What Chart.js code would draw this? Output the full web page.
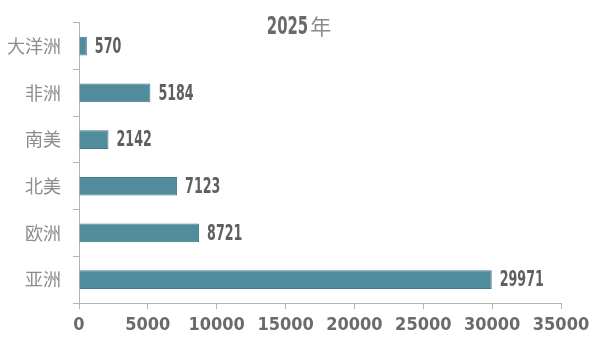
<!DOCTYPE html>
<html>
<head>
<meta charset="utf-8">
<script src="https://cdn.jsdelivr.net/npm/chart.js@4/dist/chart.umd.min.js"></script>
<style>
    html, body { margin: 0; padding: 0; background: #fff; }
    #wrap { width: 600px; height: 358px; }
</style>
</head>
<body>
<div id="wrap"><canvas id="regionChart"></canvas></div>
<script>
// data
const regions = ['大洋洲', '非洲', '南美', '北美', '欧洲', '亚洲'];
const counts = [570, 5184, 2142, 7123, 8721, 29971];
const xTicks = [0, 5000, 10000, 15000, 20000, 25000, 30000, 35000];
const titleYear = '2025';
const titleUnit = '年';

const numFont = '"DejaVu Sans Condensed", "Liberation Sans Narrow", sans-serif';

// draw text squeezed horizontally to mimic a condensed face
function narrowText(ctx, text, x, y, squeeze) {
    ctx.save();
    ctx.translate(x, y);
    ctx.scale(squeeze, 1);
    ctx.fillText(text, 0, 0);
    ctx.restore();
}

// value labels at the end of each bar
const valueLabels = {
    id: 'valueLabels',
    afterDatasetsDraw(chart) {
        const ctx = chart.ctx;
        const meta = chart.getDatasetMeta(0);
        ctx.save();
        ctx.font = 'bold 22px ' + numFont;
        ctx.fillStyle = '#5f5f5f';
        ctx.textAlign = 'left';
        ctx.textBaseline = 'middle';
        meta.data.forEach((bar, i) => {
            narrowText(ctx, String(counts[i]), bar.x + 8, bar.y + 1, 0.64);
        });
        ctx.restore();
    }
};

// title with mixed fonts
const yearTitle = {
    id: 'yearTitle',
    afterDraw(chart) {
        const ctx = chart.ctx;
        ctx.save();
        ctx.textBaseline = 'middle';
        ctx.textAlign = 'left';
        ctx.font = 'bold 25px ' + numFont;
        const w1 = ctx.measureText(titleYear).width * 0.66;
        ctx.font = '21px "Noto Sans CJK SC", sans-serif';
        const w2 = ctx.measureText(titleUnit).width;
        const x = 299 - (w1 + w2 + 2) / 2;
        ctx.fillStyle = '#6a6a6a';
        ctx.font = 'bold 25px ' + numFont;
        narrowText(ctx, titleYear, x, 27, 0.66);
        ctx.fillStyle = '#8a8a8a';
        ctx.font = '21px "Noto Sans CJK SC", sans-serif';
        ctx.fillText(titleUnit, x + w1 + 2, 26);
        ctx.restore();
    }
};

new Chart(document.getElementById('regionChart'), {
    type: 'bar',
    data: {
        labels: regions,
        datasets: [{
            data: counts,
            backgroundColor: '#508c9b',
            borderColor: '#41798a',
            borderWidth: 1,
            categoryPercentage: 0.8,
            barPercentage: 0.5
        }]
    },
    options: {
        indexAxis: 'y',
        responsive: true,
        maintainAspectRatio: false,
        animation: false,
        layout: { padding: { top: 12, right: 39, left: 0, bottom: 0 } },
        plugins: {
            legend: { display: false },
            tooltip: { enabled: false }
        },
        scales: {
            x: {
                min: 0,
                max: 35000,
                afterBuildTicks(scale) {
                    scale.ticks = xTicks.map(v => ({ value: v }));
                },
                afterFit(scale) { scale.height = 55; },
                grid: { drawOnChartArea: false, drawTicks: true, tickLength: 6, color: '#b5b5b5' },
                border: { display: true, color: '#b5b5b5' },
                ticks: {
                    color: '#6a6a6a',
                    padding: 6,
                    maxRotation: 0,
                    autoSkip: false,
                    callback: v => String(v),
                    font: { family: numFont, size: 18, weight: 'bold' }
                }
            },
            y: {
                afterFit(scale) { scale.width = 79; },
                grid: { drawOnChartArea: false, drawTicks: true, tickLength: 6, color: '#b5b5b5', offset: true },
                border: { display: true, color: '#b5b5b5' },
                ticks: {
                    color: '#8c8c8c',
                    padding: 12,
                    font: { family: '"Noto Sans CJK SC", sans-serif', size: 18 }
                }
            }
        }
    },
    plugins: [valueLabels, yearTitle]
});
</script>
</body>
</html>
